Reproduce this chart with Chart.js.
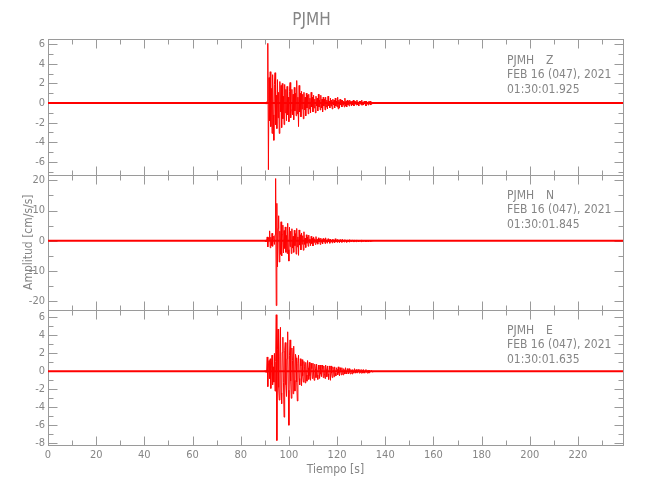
<!DOCTYPE html>
<html>
<head>
<meta charset="utf-8">
<title>PJMH</title>
<script src="https://cdn.jsdelivr.net/npm/chart.js@4.4.0/dist/chart.umd.min.js"></script>
<style>
  body { margin: 0; background: #fff; }
  #chart { display: block; }
</style>
</head>
<body>
<canvas id="chart" width="650" height="500"></canvas>
<script>
const station = 'PJMH';
const channels = ['Z', 'N', 'E'];
const dateLabel = 'FEB 16 (047), 2021';
const startTimes = ['01:30:01.925', '01:30:01.845', '01:30:01.635'];

const recordLength = 238.7;   // s
const sampleStart = 90;       // s, first sample of the strong part
const sampleStep = 0.25;      // s

// accelerations, cm/s/s, 8 samples (2 s) per row
const ampZ = [0.1, -0.1, 0.1, -0.1, 0.2, 6.1, -6.8, 2.6,
  -1.8, 3.2, -2.4, 1.5, -3.1, 2.9, -1.2, -3.8,
  1.9, 3.1, -2.2, 0.8, -2.6, 2.4, -1.5, 1.1,
  -3.1, 2.2, -0.9, 1.8, -2.5, 2.0, -1.6, 0.7,
  -2.2, 1.9, -1.0, 1.4, -1.8, 1.7, -1.2, 0.6,
  -1.9, 1.2, 2.1, -1.5, -0.7, 1.4, -1.2, 0.9,
  -1.7, 1.6, -0.8, 1.0, -1.3, 2.3, -1.1, 0.6,
  -2.4, 1.8, -0.9, 1.0, -1.4, 1.2, -0.6, 0.9,
  -1.6, 1.1, -0.7, 0.6, -1.3, 1.0, -0.5, 0.8,
  -1.1, 0.9, -0.6, 0.5, -1.0, 1.1, -0.4, 0.6,
  -0.9, 0.8, -0.5, 0.4, -1.0, 0.7, -0.3, 0.5,
  -0.8, 0.9, -0.4, 0.3, -0.7, 0.8, -0.5, 0.4,
  -0.9, 0.6, -0.3, 0.4, -0.7, 0.6, -0.4, 0.3,
  -0.6, 0.7, -0.3, 0.2, -0.5, 0.5, -0.3, 0.3,
  -0.6, 0.4, -0.2, 0.3, -0.5, 0.5, -0.3, 0.2,
  -0.4, 0.6, -0.6, 0.3, -0.5, 0.4, -0.2, 0.3,
  -0.4, 0.3, -0.2, 0.2, -0.4, 0.5, -0.3, 0.2,
  -0.4, 0.3, -0.2, 0.2, -0.3, 0.3, -0.1, 0.2,
  -0.3, 0.2, -0.2, 0.3, -0.3, 0.2, -0.1, 0.2,
  -0.2, 0.3, -0.2, 0.1, -0.3, 0.2, -0.1, 0.2,
  -0.2, 0.3, -0.2, 0.1, -0.2, 0.2, -0.1, 0.2,
  -0.3, 0.2, -0.1, 0.1, -0.2, 0.2, -0.1, 0.2,
  -0.2, 0.1, -0.1, 0.1, 0];
const ampN = [0.2, -0.3, 0.3, -0.2, 1.3, -2.0, 1.1, 0.4,
  3.3, -2.3, 1.2, -1.6, 2.5, -1.8, 0.9, 1.6,
  -1.2, 2.0, 20.6, -21.4, 12.4, -8.6, 4.1, 8.3,
  -7.0, 3.2, -4.5, 6.3, -5.0, 2.1, 5.2, -4.0,
  3.4, -2.5, 4.6, -3.8, 1.8, -4.2, 5.8, -2.9,
  -6.7, 4.5, -1.9, 3.2, -4.2, 4.0, -2.4, 1.5,
  -3.8, 3.5, -1.6, 2.4, -4.4, 4.1, -2.0, 1.3,
  -4.8, 3.6, -1.4, 2.0, -3.0, 2.6, -1.1, 1.7,
  -3.1, 3.0, -1.2, 0.9, -2.2, 2.0, -0.8, 1.3,
  -1.8, 1.9, -0.7, 0.6, -1.6, 1.5, -0.9, 0.8,
  -1.7, 1.3, -0.5, 0.7, -1.2, 1.4, -0.6, 0.5,
  -1.1, 1.0, -0.4, 0.6, -1.2, 0.9, -0.5, 0.4,
  -1.0, 0.8, -0.3, 0.5, -0.9, 1.0, -0.4, 0.3,
  -0.8, 0.7, -0.3, 0.4, -0.8, 0.6, -0.2, 0.3,
  -0.7, 0.6, -0.3, 0.2, -0.6, 0.7, -0.3, 0.2,
  -0.5, 0.5, -0.2, 0.3, -0.6, 0.4, -0.2, 0.3,
  -0.5, 0.5, -0.2, 0.2, -0.4, 0.4, -0.1, 0.2,
  -0.5, 0.3, -0.2, 0.2, -0.4, 0.4, -0.1, 0.2,
  -0.3, 0.3, -0.1, 0.2, -0.4, 0.3, -0.1, 0.2,
  -0.3, 0.3, -0.1, 0.1, -0.3, 0.2, -0.1, 0.2,
  -0.3, 0.3, -0.1, 0.2, -0.2, 0.2, -0.1, 0.1,
  -0.3, 0.2, -0.1, 0.1, -0.2, 0.2, -0.1, 0.1,
  -0.2, 0.1, -0.1, 0.1, 0];
const ampE = [0.1, -0.1, 0.1, -0.1, 1.6, -1.7, 0.6, 1.2,
  -0.8, 1.4, -1.9, 0.7, 1.8, -1.5, 0.5, -1.2,
  2.0, -2.2, 1.1, 6.3, -7.7, 2.4, 4.7, -1.8,
  -3.2, 1.6, 4.9, -2.4, -3.6, 2.1, 3.8, -1.2,
  -5.1, 2.3, 3.2, -1.5, -2.8, 1.4, 4.4, -2.1,
  -6.0, 1.8, 3.5, -1.1, -3.0, 2.6, 1.2, -2.5,
  2.8, -1.0, -2.2, 1.9, 1.5, -1.2, -3.3, 0.9,
  1.8, -0.8, -1.5, 1.4, 0.6, -1.6, 1.3, -0.5,
  -1.2, 1.1, 0.5, -1.3, 1.0, -0.4, -1.1, 1.2,
  0.4, -0.9, 1.0, -0.5, -1.0, 0.9, 0.3, -0.8,
  0.9, -0.3, -1.0, 0.8, 0.3, -0.7, 0.8, -0.4,
  -0.9, 0.7, 0.2, -0.8, 0.7, -0.3, -0.6, 0.7,
  0.3, -0.7, 0.6, -0.2, -0.8, 0.7, 0.2, -0.6,
  0.6, -0.3, -0.9, 0.6, 0.2, -1.0, 0.6, -0.2,
  -0.7, 0.5, 0.2, -0.6, 0.5, -0.2, -0.5, 0.4,
  0.2, -0.4, 0.5, -0.2, -0.5, 0.4, 0.1, -0.4,
  0.4, -0.1, -0.4, 0.3, 0.1, -0.3, 0.4, -0.1,
  -0.3, 0.3, 0.1, -0.3, 0.3, -0.1, -0.3, 0.2,
  0.1, -0.3, 0.2, -0.1, -0.2, 0.3, 0.1, -0.2,
  0.2, -0.1, -0.2, 0.2, 0.1, -0.2, 0.2, -0.1,
  -0.2, 0.2, 0.1, -0.2, 0.2, -0.1, -0.2, 0.1,
  0.2, -0.1, -0.2, 0.1, 0.1, -0.2, 0.1, -0.1,
  -0.1, 0.1, 0.1, -0.1, 0];

const timeTicks = [0, 20, 40, 60, 80, 100, 120, 140, 160, 180, 200, 220];
const ticksZ = [-6, -4, -2, 0, 2, 4, 6];
const ticksN = [-20, -10, 0, 10, 20];
const ticksE = [-8, -6, -4, -2, 0, 2, 4, 6];

const textColor = '#858585';
const axisColor = '#9a9a9a';
const waveColor = '#ff0000';
const fontFamily = "'DejaVu Sans Condensed', 'Liberation Sans Narrow', sans-serif";
Chart.defaults.font.family = fontFamily;

const panels = [
  { id: 'yZ', amp: ampZ, ticks: ticksZ, minor: 1, min: -7.3, max: 6.5 },
  { id: 'yN', amp: ampN, ticks: ticksN, minor: 5, min: -22.8, max: 21.9 },
  { id: 'yE', amp: ampE, ticks: ticksE, minor: 1, min: -8.2, max: 6.85 }
];

function toPoints(amp) {
  return amp.map((v, i) => ({ x: sampleStart + i * sampleStep, y: v }));
}

const datasets = [];
panels.forEach(p => {
  // quiet part of the record, noise below the line width
  datasets.push({
    data: [{ x: 0, y: 0 }, { x: recordLength, y: 0 }],
    yAxisID: p.id, borderColor: waveColor, borderWidth: 2, pointRadius: 0
  });
  datasets.push({
    data: toPoints(p.amp),
    yAxisID: p.id, borderColor: waveColor, borderWidth: 1, pointRadius: 0, tension: 0
  });
});

const scales = {
  x: {
    type: 'linear', position: 'bottom', min: 0, max: recordLength,
    afterBuildTicks: s => { s.ticks = timeTicks.map(v => ({ value: v })); },
    afterFit: s => { s.height = 55; },
    grid: { display: false, drawTicks: false },
    border: { display: false },
    ticks: { color: textColor, font: { size: 11 }, padding: 4, maxRotation: 0, autoSkip: false },
    title: { display: true, text: 'Tiempo [s]', color: textColor, font: { size: 12 }, padding: { top: 0, bottom: 23 } }
  }
};
// stacked axes on the left: the last one defined goes on top
panels.slice().reverse().forEach(p => {
  scales[p.id] = {
    type: 'linear', position: 'left', stack: 'panels', stackWeight: 1,
    min: p.min, max: p.max,
    afterBuildTicks: s => { s.ticks = p.ticks.map(v => ({ value: v })); },
    afterFit: s => { s.width = 48; },
    grid: { display: false, drawTicks: false },
    border: { display: false },
    ticks: { color: textColor, font: { size: 11 }, padding: 3, autoSkip: false },
    title: {
      display: p.id === 'yN', text: 'Amplitud [cm/s/s]', color: textColor,
      font: { size: 12 }, padding: { top: 22, bottom: 0 }
    }
  };
});

function line(ctx, x1, y1, x2, y2) {
  ctx.beginPath();
  ctx.moveTo(x1, y1);
  ctx.lineTo(x2, y2);
  ctx.stroke();
}

// frames, inward ticks and channel headers, under the traces
const panelFrames = {
  id: 'panelFrames',
  beforeDatasetsDraw(chart) {
    const { ctx, chartArea } = chart;
    const xs = chart.scales.x;
    const left = Math.round(chartArea.left) + 0.5;
    const right = Math.round(chartArea.right) + 0.5;
    ctx.save();
    ctx.strokeStyle = axisColor;
    ctx.lineWidth = 1;
    panels.forEach((p, i) => {
      const ys = chart.scales[p.id];
      const top = Math.round(ys.top) + 0.5;
      const bottom = Math.round(ys.bottom) + 0.5;
      ctx.strokeRect(left, top, right - left, bottom - top);

      for (let v = 0; v <= xs.max; v += 10) {
        const px = Math.round(xs.getPixelForValue(v)) + 0.5;
        const len = v % 20 === 0 ? 9 : 5;
        line(ctx, px, top, px, top + len);
        line(ctx, px, bottom, px, bottom - len);
      }
      for (let v = Math.ceil(p.min / p.minor) * p.minor; v <= p.max; v += p.minor) {
        const py = Math.round(ys.getPixelForValue(v)) + 0.5;
        const len = p.ticks.includes(v) ? 9 : 5;
        line(ctx, left, py, left + len, py);
        line(ctx, right, py, right - len, py);
      }

      ctx.fillStyle = textColor;
      ctx.font = '12px ' + fontFamily;
      ctx.textBaseline = 'middle';
      ctx.textAlign = 'left';
      const tx = chartArea.right - 116;
      ctx.fillText(station, tx, ys.top + 21);
      ctx.fillText(channels[i], tx + 39, ys.top + 21);
      ctx.fillText(dateLabel, tx, ys.top + 35.5);
      ctx.fillText(startTimes[i], tx, ys.top + 50);
    });
    ctx.restore();
  }
};

new Chart(document.getElementById('chart'), {
  type: 'line',
  data: { datasets },
  options: {
    responsive: false,
    animation: false,
    layout: { padding: { left: 0, right: 27, top: 0, bottom: 0 } },
    scales,
    plugins: {
      legend: { display: false },
      tooltip: { enabled: false },
      title: {
        display: true, text: station, color: textColor,
        font: { size: 17, weight: 'normal' }, padding: { top: 10, bottom: 9 }
      }
    }
  },
  plugins: [panelFrames]
});
</script>
</body>
</html>
